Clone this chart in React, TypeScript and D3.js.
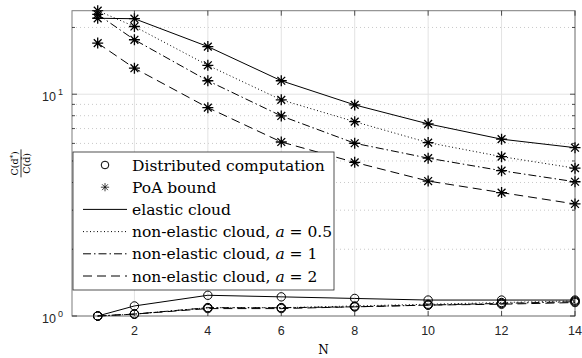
import React, { useEffect, useRef } from "react";
import * as d3 from "d3";

const width = 582;
const height = 358;
const space = { marginLeft: 72, marginRight: 7, marginTop: 10.7, marginBottom: 42 };

// data
const nValues = [1, 2, 4, 6, 8, 10, 12, 14];
const xTicks = [2, 4, 6, 8, 10, 12, 14];
const yTicks = [1, 10];

const poaElastic = [22.0, 21.9, 16.4, 11.5, 8.95, 7.35, 6.27, 5.74];
const poaA05 = [23.8, 20.2, 13.5, 9.43, 7.52, 6.05, 5.23, 4.64];
const poaA1 = [22.9, 17.6, 11.5, 7.98, 6.01, 5.15, 4.52, 4.03];
const poaA2 = [17.0, 13.1, 8.7, 6.09, 4.93, 4.06, 3.6, 3.2];

const distElastic = [1, 1.11, 1.24, 1.22, 1.2, 1.18, 1.18, 1.18];
const distA05 = [1, 1.02, 1.09, 1.09, 1.11, 1.13, 1.15, 1.17];
const distA1 = [1, 1.02, 1.09, 1.09, 1.1, 1.12, 1.14, 1.16];
const distA2 = [1, 1.02, 1.08, 1.08, 1.1, 1.12, 1.13, 1.15];

const seriesNames = ["elastic cloud", "a = 0.5", "a = 1", "a = 2"];
const dashes = ["none", "1,2.5", "8,3,1.5,3", "9,5"];

const starPath = "M-5.5,0H5.5M0,-5.5V5.5M-3.9,-3.9L3.9,3.9M-3.9,3.9L3.9,-3.9";
const sans = "'Liberation Sans', Arial, sans-serif";
const serif = "'DejaVu Serif', 'Liberation Serif', serif";

const App = () => {
  const ref = useRef(null);

  const chart = () => {
    const svg = d3.select(ref.current);
    svg.selectAll("*").remove();
    svg.attr("width", width).attr("height", height).attr("viewBox", [0, 0, width, height]);

    const poa = [poaElastic, poaA05, poaA1, poaA2];
    const dist = [distElastic, distA05, distA1, distA2];

    const x = d3
      .scaleLinear()
      .domain([0.3, 14])
      .range([space.marginLeft, width - space.marginRight]);

    const yMax = d3.max(poa, (s) => d3.max(s));
    const y = d3
      .scaleLog()
      .domain([1, yMax])
      .range([height - space.marginBottom, space.marginTop]);

    const x0 = x.range()[0], x1 = x.range()[1];
    const y0 = y.range()[0], y1 = y.range()[1];

    svg.append("rect").attr("x", x0).attr("y", y1).attr("width", x1 - x0).attr("height", y0 - y1).attr("fill", "#fff");

    // minor y values
    const minor = [2, 3, 4, 5, 6, 7, 8, 9, 20].filter((v) => v < yMax);

    // grid
    const grid = svg.append("g");
    grid.selectAll(".mg").data(minor).join("line")
      .attr("x1", x0).attr("x2", x1)
      .attr("y1", (d) => y(d)).attr("y2", (d) => y(d))
      .attr("stroke", "#c9c9c9").attr("stroke-dasharray", "1,3");
    grid.selectAll(".gx").data(xTicks).join("line")
      .attr("x1", (d) => x(d)).attr("x2", (d) => x(d))
      .attr("y1", y0).attr("y2", y1)
      .attr("stroke", "#e3e3e3");
    grid.selectAll(".gy").data(yTicks).join("line")
      .attr("x1", x0).attr("x2", x1)
      .attr("y1", (d) => y(d)).attr("y2", (d) => y(d))
      .attr("stroke", "#e3e3e3");

    // lines
    const line = d3.line().x((d) => x(d[0])).y((d) => y(d[1]));
    const plot = svg.append("g");
    [dist, poa].forEach((group, gi) => {
      group.forEach((vals, i) => {
        const pts = nValues.map((n, k) => [n, vals[k]]);
        plot.append("path")
          .attr("d", line(pts))
          .attr("fill", "none")
          .attr("stroke", "#000")
          .attr("stroke-width", 1)
          .attr("stroke-dasharray", dashes[i]);
        const m = plot.append("g");
        if (gi === 0) {
          m.selectAll("circle").data(pts).join("circle")
            .attr("cx", (d) => x(d[0])).attr("cy", (d) => y(d[1]))
            .attr("r", 4.2).attr("fill", "none").attr("stroke", "#000");
        } else {
          m.selectAll("path").data(pts).join("path")
            .attr("d", starPath)
            .attr("transform", (d) => `translate(${x(d[0])},${y(d[1])})`)
            .attr("stroke", "#000").attr("stroke-width", 1.3);
        }
      });
    });

    // axes box
    const axisColor = "#262626";
    svg.append("rect").attr("x", x0).attr("y", y1).attr("width", x1 - x0).attr("height", y0 - y1)
      .attr("fill", "none").attr("stroke", axisColor).attr("stroke-width", 1).attr("stroke-opacity", 0.6);

    const ticks = svg.append("g").attr("stroke", axisColor).attr("stroke-opacity", 0.8);
    xTicks.forEach((t) => {
      ticks.append("line").attr("x1", x(t)).attr("x2", x(t)).attr("y1", y0).attr("y2", y0 - 5);
      ticks.append("line").attr("x1", x(t)).attr("x2", x(t)).attr("y1", y1).attr("y2", y1 + 5);
    });
    yTicks.forEach((t) => {
      ticks.append("line").attr("x1", x0).attr("x2", x0 + 5).attr("y1", y(t)).attr("y2", y(t));
      ticks.append("line").attr("x1", x1).attr("x2", x1 - 5).attr("y1", y(t)).attr("y2", y(t));
    });
    minor.forEach((t) => {
      ticks.append("line").attr("x1", x0).attr("x2", x0 + 3).attr("y1", y(t)).attr("y2", y(t));
      ticks.append("line").attr("x1", x1).attr("x2", x1 - 3).attr("y1", y(t)).attr("y2", y(t));
    });

    // tick labels
    svg.append("g").selectAll("text").data(xTicks).join("text")
      .attr("x", (d) => x(d)).attr("y", y0 + 19)
      .attr("text-anchor", "middle")
      .attr("font-family", sans).attr("font-size", 12.5).attr("fill", axisColor)
      .text((d) => d);

    const yl = svg.append("g").selectAll("text").data(yTicks).join("text")
      .attr("x", x0 - 9).attr("y", (d) => y(d) + 7)
      .attr("text-anchor", "end")
      .attr("font-family", sans).attr("font-size", 12.5).attr("fill", axisColor);
    yl.append("tspan").text("10");
    yl.append("tspan").attr("dx", 2).attr("dy", -6).attr("font-size", 9).text((d) => Math.round(Math.log10(d)));

    // x label
    svg.append("text").attr("x", (x0 + x1) / 2).attr("y", 354)
      .attr("text-anchor", "middle").attr("font-family", serif).attr("font-size", 12)
      .text("N");

    // y label (fraction)
    const yg = svg.append("g").attr("transform", `translate(21,${(y0 + y1) / 2 + 0}) rotate(-90)`)
      .attr("font-family", serif).attr("font-size", 9.5);
    const num = yg.append("text").attr("x", 0).attr("y", -3).attr("text-anchor", "middle");
    num.append("tspan").text("C(d");
    num.append("tspan").attr("dy", -3).attr("font-size", 7).text("*");
    num.append("tspan").attr("dy", 3).text(")");
    yg.append("line").attr("x1", -14).attr("x2", 14).attr("y1", 0).attr("y2", 0).attr("stroke", "#000").attr("stroke-width", 0.8);
    yg.append("text").attr("x", 0).attr("y", 9).attr("text-anchor", "middle").text("C(d\u0304)");

    // legend
    const lg = svg.append("g");
    lg.append("rect").attr("x", 73).attr("y", 152).attr("width", 261).attr("height", 138)
      .attr("fill", "#fff").attr("stroke", "#262626").attr("stroke-width", 0.8);
    const rowY = (i) => 165 + i * 22.2;
    const labelX = 132;
    const entries = ["Distributed computation", "PoA bound", ...seriesNames];
    entries.forEach((name, i) => {
      const cy = rowY(i);
      if (i === 0) {
        lg.append("circle").attr("cx", 105).attr("cy", cy).attr("r", 3.8).attr("fill", "none").attr("stroke", "#000");
      } else if (i === 1) {
        lg.append("path").attr("d", starPath).attr("transform", `translate(105,${cy}) scale(0.75)`).attr("stroke", "#000");
      } else {
        lg.append("line").attr("x1", 83).attr("x2", 127).attr("y1", cy).attr("y2", cy)
          .attr("stroke", "#000").attr("stroke-dasharray", dashes[i - 2]);
      }
      const t = lg.append("text").attr("x", labelX).attr("y", cy + 5.5)
        .attr("font-family", serif).attr("font-size", 15.5);
      if (i >= 3) {
        const parts = name.split(" = ");
        t.append("tspan").text("non-elastic cloud, ");
        t.append("tspan").attr("font-style", "italic").text(parts[0]);
        t.append("tspan").text(" = " + parts[1]);
      } else {
        t.text(name);
      }
    });
  };

  useEffect(() => {
    chart();
  }, []);

  return (
    <div>
      <svg ref={ref} style={{ position: "absolute", left: 0, top: 0 }} />
    </div>
  );
};

export default App;
